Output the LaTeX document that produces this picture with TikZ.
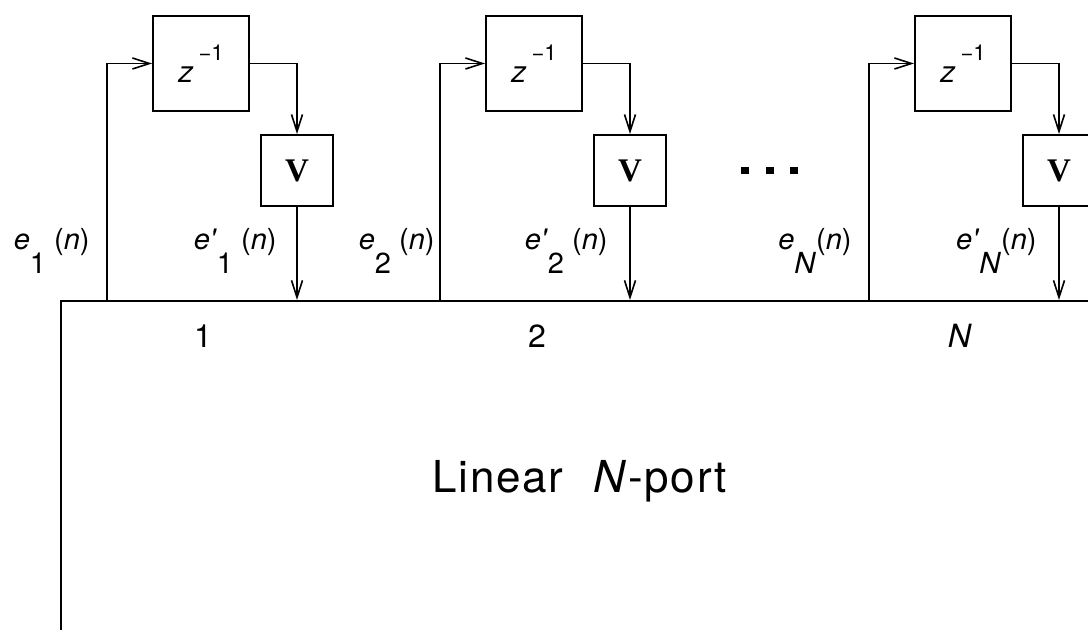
\documentclass[tikz,border=0pt]{standalone}
\usepackage{fontspec}
\newfontfamily\hv{TeX Gyre Heros}
\newfontfamily\vfont{Liberation Serif}
\usetikzlibrary{arrows.meta}

% subscript dropped well below the baseline, same size as the symbol
\newcommand\lowidx[1]{\raisebox{-12pt}{#1}}
\newcommand\tick{\char"27}

\begin{document}
\begin{tikzpicture}[x=0.5pt,y=-0.5pt,
  font=\hv,
  wire/.style={line width=0.95pt},
  flow/.style={wire,-{Straight Barb[length=8.5pt,width=5.5pt,line width=0.8pt]}},
  delaybox/.style={draw,line width=0.95pt,minimum width=48pt,minimum height=47.5pt,inner sep=0pt,
    font=\hv\fontsize{15}{15}\selectfont},
  gainbox/.style={draw,line width=0.95pt,minimum width=36pt,minimum height=35.5pt,inner sep=0pt,
    font=\vfont\bfseries\fontsize{16.5}{16.5}\selectfont},
  sig/.style={font=\hv\fontsize{14.5}{14.5}\selectfont,anchor=base east,inner sep=0pt},
  portnum/.style={font=\hv\fontsize{16}{16}\selectfont,anchor=base,inner sep=0pt},
  netbox/.style={draw,line width=0.95pt,minimum width=530pt,minimum height=200pt,anchor=north west,inner sep=0pt},
]
\useasboundingbox (0,0) rectangle (1088,630);
\clip (0,0) rectangle (1088,630);

% the linear N-port (continues past the right and bottom edges)
\node[netbox] (nport) at (60,300) {};
\node[anchor=base west,inner sep=0pt,font=\hv\fontsize{22}{22}\selectfont] (title) at (432,493)
  {\addfontfeatures{LetterSpace=4}Linear\hspace{8pt} \textit{N}-port};

% one delay / gain loop per port
\foreach \k/\d in {1/0,2/333,N/762}{
  \coordinate (in\k) at (107+\d,300);
  \coordinate (out\k) at (297+\d,300);
  \node[delaybox] (z\k) at (201+\d,63.5)
    {\textit{z}\hspace{2.5pt}\raisebox{11pt}{\fontsize{11}{11}\selectfont −1}};
  \node[gainbox] (v\k) at (297+\d,170.5) {V};
  \draw[flow] (in\k) |- (z\k.west);
  \draw[flow] (z\k.east) -| (v\k.north);
  \draw[flow] (v\k.south) -- (out\k);
}

% signal labels
\node[sig] (e1) at (90,250) {\textit{e}\lowidx{1} (\textit{n})};
\node[sig] (ep1) at (277,250) {\textit{e\tick}\lowidx{1} (\textit{n})};
\node[sig] (e2) at (435,250) {\textit{e}\lowidx{2} (\textit{n})};
\node[sig] (ep2) at (608,250) {\textit{e\tick}\lowidx{2} (\textit{n})};
\node[sig] (eN) at (852,250) {\textit{e}\lowidx{\textit{N}}(\textit{n})};
\node[sig] (epN) at (1037,250) {\textit{e\tick}\lowidx{\textit{N}}(\textit{n})};

% port numbers
\node[portnum] (p1) at (203,348) {1};
\node[portnum] (p2) at (537,348) {2};
\node[portnum] (pN) at (960,348) {\textit{N}};

% ellipsis between the ports
\foreach \cx in {741,766,790}
  \fill (\cx,167) rectangle ++(7.5,7.5);
\end{tikzpicture}
\end{document}
